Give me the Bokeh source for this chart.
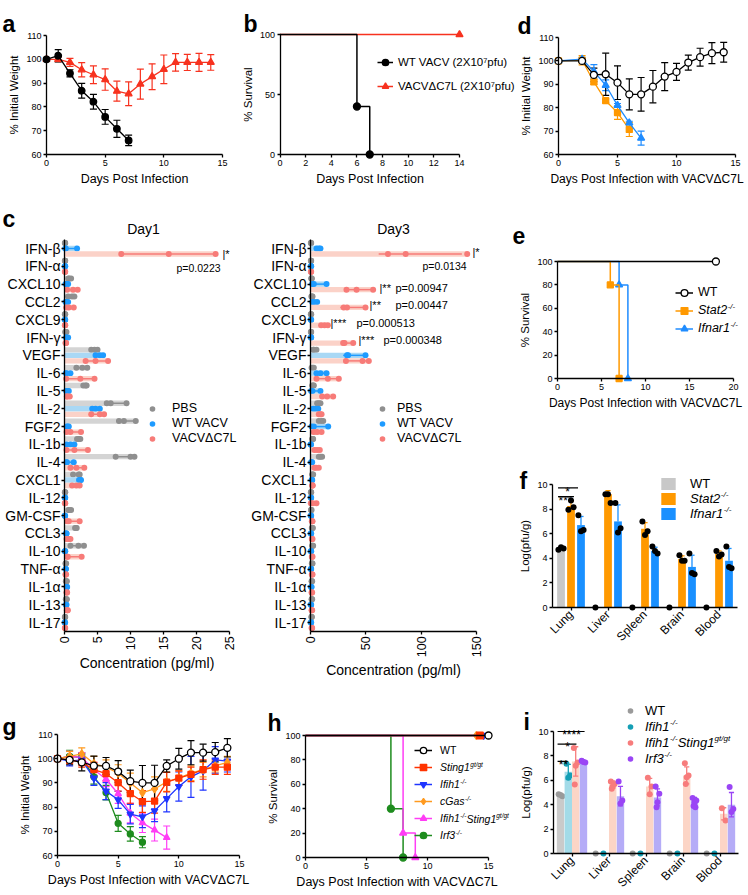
import numpy as np
from math import pi
from bokeh.plotting import figure
from bokeh.models import (ColumnDataSource, Label, Legend, LegendItem, FixedTicker,
                          Whisker, TeeHead, Range1d)
from bokeh.transform import dodge
from bokeh.layouts import row, column
from bokeh.embed import file_html
from bokeh.resources import INLINE

FONT = "Liberation Sans"

# ======================= DATA =======================
# (a) body weight
A_WT_DAYS = [0, 1, 2, 3, 4, 5, 6, 7]
A_WT_MEAN = [100.0, 101.5, 94.1, 86.8, 82.2, 75.8, 70.8, 65.9]
A_WT_SD = [0.0, 2.6, 1.5, 3.1, 3.1, 3.1, 3.6, 2.2]
A_C7L_DAYS = [0, 1, 2, 3, 4, 5, 6, 7, 8, 9, 10, 11, 12, 13, 14]
A_C7L_MEAN = [100.0, 100.0, 98.7, 95.6, 93.5, 91.5, 86.6, 85.5, 89.6, 92.7, 95.8, 98.7, 98.7, 98.7, 98.7]
A_C7L_SD = [0.0, 1.0, 1.7, 3.0, 3.7, 4.5, 4.2, 5.0, 6.3, 5.4, 6.0, 3.7, 3.4, 3.8, 3.3]

# (b) survival
B_WT_T = [0, 6, 7]
B_WT_S = [100, 40, 0]
B_C7L_T = [0, 14]
B_C7L_S = [100, 100]

# (d) body weight after VACVΔC7L
D_WT_DAYS = [0, 2, 3, 4, 5, 6, 7, 8, 9, 10, 11, 12, 13, 14]
D_WT_MEAN = [100.0, 100.0, 94.0, 94.3, 90.7, 85.7, 85.7, 89.0, 93.3, 95.3, 99.3, 101.6, 103.3, 103.7]
D_WT_SD = [0.0, 0.5, 2.9, 9.0, 7.2, 6.6, 7.2, 6.9, 6.0, 3.6, 3.2, 3.8, 4.5, 4.2]
D_STAT2_DAYS = [0, 2, 3, 4, 5, 6]
D_STAT2_MEAN = [100.0, 100.3, 91.0, 83.0, 77.9, 70.7]
D_STAT2_SD = [0.0, 2.0, 1.0, 0.8, 2.9, 3.0]
D_IFNAR1_DAYS = [0, 2, 3, 4, 5, 6, 7]
D_IFNAR1_MEAN = [100.0, 100.8, 95.5, 89.6, 81.0, 73.5, 67.0]
D_IFNAR1_SD = [0.0, 0.7, 2.9, 2.3, 0.8, 0.7, 3.0]

# (e) survival
E_WT_T = [0, 18]
E_WT_S = [100, 100]
E_STAT2_T = [0, 6, 7]
E_STAT2_S = [100, 80, 0]
E_IFNAR1_T = [0, 7, 8]
E_IFNAR1_S = [100, 80, 0]

# (f) viral titres
ORGANS = ["Lung", "Liver", "Spleen", "Brain", "Blood"]
F_WT_MEAN = [4.8, 0, 0, 0, 0]
F_WT_SD = [0.1, 0, 0, 0, 0]
F_STAT2_MEAN = [8.25, 9.2, 6.4, 3.95, 4.35]
F_STAT2_SD = [0.4, 0.3, 0.5, 0.25, 0.25]
F_IFNAR1_MEAN = [6.7, 7.0, 4.6, 3.3, 3.8]
F_IFNAR1_SD = [0.7, 1.35, 0.3, 0.95, 1.0]
F_WT_PTS = [[4.7, 4.9, 4.8], [0], [0], [0], [0]]
F_STAT2_PTS = [[7.95, 8.7, 8.15], [9.2, 9.2, 8.5], [7.0, 5.9, 6.2], [4.25, 3.8, 3.8], [4.6, 4.15, 4.3]]
F_IFNAR1_PTS = [[7.5, 6.2, 6.3], [8.5, 6.1, 6.45], [4.95, 4.6, 4.4], [4.4, 2.8, 2.7], [4.95, 3.3, 3.2]]

# (g) body weight, knockout panel
G_DAYS = [0, 1, 2, 3, 4, 5, 6, 7, 8, 9, 10, 11, 12, 13, 14]
G_WT = [100, 99.5, 98.5, 97.1, 97.0, 94.7, 90.7, 90.0, 90.0, 97.0, 100.0, 102.5, 102.5, 102.7, 104.5]
G_WT_SD = [0, 2.0, 3.5, 4.0, 3.5, 4.5, 4.6, 7.2, 7.3, 2.5, 4.3, 5.0, 3.5, 4.0, 3.8]
G_STING = [100, 99.5, 98.5, 95.5, 93.8, 90.1, 85.6, 82.3, 82.5, 90.3, 92.0, 93.5, 95.5, 96.5, 96.5]
G_STING_SD = [0, 1.5, 2.0, 3.0, 3.0, 3.5, 4.0, 4.5, 5.0, 4.0, 3.0, 3.0, 4.0, 3.0, 3.0]
G_CGAS = [100, 101, 102, 98, 96.5, 94, 90, 86, 87.5, 90.5, 92, 94, 95.5, 97, 98.5]
G_CGAS_SD = [0, 2.0, 2.5, 3.0, 3.0, 3.5, 4.0, 4.0, 5.0, 4.0, 3.0, 3.0, 3.0, 2.5, 2.5]
G_IFIH1 = [100, 99, 99.5, 92, 86.6, 83, 77.1, 76, 78.5, 83.5, 88.5, 92.5, 95, 99.5, 99]
G_IFIH1_SD = [0, 2.0, 2.0, 3.0, 3.5, 3.5, 4.0, 4.5, 4.5, 5.5, 6.0, 8.5, 8.0, 5.5, 4.5]
G_DKO_DAYS = [0, 1, 2, 3, 4, 5, 6, 7, 8, 9]
G_DKO = [100, 101, 100.5, 95.5, 91.5, 85.5, 77.5, 73.5, 70.5, 67.4]
G_DKO_SD = [0, 2.0, 2.0, 3.0, 3.0, 4.0, 4.0, 4.0, 4.5, 4.8]
G_IRF3_DAYS = [0, 1, 2, 3, 4, 5, 6, 7]
G_IRF3 = [100, 101, 100.5, 92.5, 86, 73.3, 68.9, 65.5]
G_IRF3_SD = [0, 2.5, 2.0, 3.0, 3.0, 3.3, 3.0, 2.3]

# (h) survival, knockout panel
H_WT_T = [0, 15]
H_WT_S = [100, 100]
H_STING_T = [0, 14.3]
H_STING_S = [100, 100]
H_IFIH1_T = [0, 14.6]
H_IFIH1_S = [100, 100]
H_CGAS_T = [0, 14.0]
H_CGAS_S = [100, 100]
H_DKO_T = [0, 8, 9]
H_DKO_S = [100, 20, 0]
H_IRF3_T = [0, 7, 8]
H_IRF3_S = [100, 40, 0]

# (i) viral titres, knockout panel
I_WT_MEAN = [4.8, 0, 0, 0, 0]
I_WT_SD = [0.1, 0, 0, 0, 0]
I_IFIH1_MEAN = [6.7, 0, 0, 0, 0]
I_IFIH1_SD = [0.6, 0, 0, 0, 0]
I_DKO_MEAN = [7.55, 5.65, 5.5, 6.4, 3.25]
I_DKO_SD = [1.2, 0.3, 0.65, 0.7, 0.5]
I_IRF3_MEAN = [7.5, 4.7, 4.6, 4.3, 4.0]
I_IRF3_SD = [0.1, 0.8, 0.7, 0.3, 1.0]
I_WT_PTS = [[4.85, 4.7, 4.8], [0], [0], [0], [0]]
I_IFIH1_PTS = [[7.35, 6.4, 6.2], [0], [0], [0], [0]]
I_DKO_PTS = [[8.65, 7.45, 7.2, 5.65], [5.9, 5.7, 5.5, 5.3], [6.2, 5.5, 4.85], [7.4, 6.4, 6.25, 5.7], [3.7, 2.7]]
I_IRF3_PTS = [[7.6, 7.45, 7.5, 7.55], [5.9, 4.35, 4.1], [5.5, 4.9, 4.2, 3.8], [4.55, 4.35, 4.2, 3.9, 3.8], [5.45, 3.65, 3.4]]

# (c) cytokines (three replicates each)
CYTOKINES = ["IFN-β", "IFN-α", "CXCL10", "CCL2", "CXCL9", "IFN-γ", "VEGF", "IL-6", "IL-5", "IL-2", "FGF2",
             "IL-1b", "IL-4", "CXCL1", "IL-12", "GM-CSF", "CCL3", "IL-10", "TNF-α", "IL-1α", "IL-13", "IL-17"]
DAY1_PBS = [[0.05, 0.1, 0.1], [0.05, 0.1, 0.1], [0.6, 0.7, 1.0], [0.55, 1.15, 1.5], [0.05, 0.1, 0.1],
            [0.1, 0.2, 0.3], [4.05, 4.55, 5.0], [1.8, 2.7, 3.45], [2.85, 3.2, 3.35], [6.4, 7.0, 9.4],
            [8.25, 9.0, 10.8], [1.9, 2.2, 2.4], [7.75, 10.0, 10.6], [1.3, 2.15, 2.3], [0.05, 0.1, 0.1],
            [0.6, 0.7, 1.0], [1.6, 1.75, 1.85], [0.9, 2.1, 2.95], [0.15, 0.2, 0.25], [0.2, 0.3, 0.35],
            [0.2, 0.3, 0.35], [0.05, 0.1, 0.1]]
DAY1_WT = [[0.1, 0.2, 1.9], [0.05, 0.1, 0.1], [0.15, 0.3, 0.55], [0.15, 0.3, 0.55], [0.05, 0.1, 0.1],
           [0.2, 0.3, 0.55], [4.7, 5.35, 5.85], [0.2, 0.3, 0.9], [0.25, 0.5, 0.65], [4.2, 4.7, 5.35],
           [0.3, 0.5, 0.65], [0.3, 0.9, 1.5], [0.3, 0.35, 1.4], [2.2, 2.4, 2.5], [0.05, 0.1, 0.1],
           [0.05, 0.05, 0.1], [0.2, 0.3, 0.3], [0.05, 0.1, 0.1], [0.15, 0.2, 0.2], [0.3, 0.35, 0.4],
           [0.2, 0.25, 0.3], [0.05, 0.05, 0.1]]
DAY1_C7L = [[8.6, 15.8, 22.9], [0.05, 0.1, 0.1], [0.4, 1.3, 2.0], [0.25, 0.65, 1.4], [0.05, 0.1, 0.1],
            [0.15, 0.2, 0.25], [3.2, 4.7, 6.6], [0.25, 2.4, 4.55], [0.35, 0.4, 0.8], [4.05, 5.35, 6.0],
            [0.3, 0.9, 2.5], [0.3, 1.5, 3.55], [0.9, 1.8, 3.0], [1.15, 1.8, 2.3], [0.05, 0.1, 0.1],
            [0.4, 0.65, 2.3], [0.3, 0.65, 0.9], [0.4, 0.5, 2.6], [0.15, 0.2, 0.25], [0.3, 0.35, 0.4],
            [0.35, 0.45, 0.5], [0.05, 0.1, 0.1]]
DAY3_PBS = [[0.3, 0.5, 0.6], [0.3, 0.5, 0.6], [0.6, 1.0, 1.2], [0.8, 1.5, 1.8], [0.3, 0.5, 0.6],
            [0.3, 0.5, 0.6], [2.5, 3.0, 5.4], [1.0, 2.0, 3.0], [1.5, 2.5, 3.0], [6.0, 7.5, 9.0],
            [7.5, 10.0, 11.5], [1.5, 2.0, 2.4], [7.5, 9.0, 10.5], [1.5, 2.0, 2.4], [0.3, 0.5, 0.6],
            [0.5, 0.7, 0.9], [1.2, 1.8, 2.1], [1.5, 2.0, 2.4], [1.2, 1.5, 1.8], [1.0, 1.2, 1.5],
            [1.0, 1.2, 1.5], [0.8, 1.0, 1.2]]
DAY3_WT = [[5.4, 7.5, 9.0], [0.3, 0.5, 0.6], [1.5, 3.0, 14.5], [1.5, 3.0, 6.0], [0.3, 0.5, 0.6],
           [0.3, 0.5, 0.6], [33.0, 34.0, 49.7], [5.4, 9.0, 14.5], [0.5, 1.8, 9.0], [2.4, 4.5, 7.0],
           [1.0, 3.0, 16.0], [0.2, 0.3, 0.4], [0.5, 1.0, 1.5], [1.0, 1.5, 1.5], [0.3, 0.5, 0.6],
           [0.3, 0.5, 0.6], [0.3, 0.5, 0.6], [0.3, 0.5, 0.6], [0.3, 0.5, 0.6], [0.5, 0.8, 0.9],
           [0.3, 0.5, 0.6], [0.3, 0.5, 0.6]]
DAY3_C7L = [[70.0, 86.0, 141.6], [0.3, 0.5, 0.6], [32.5, 41.6, 56.6], [30.0, 33.0, 49.7], [9.6, 12.7, 15.7],
            [29.5, 30.7, 38.6], [32.0, 47.0, 52.7], [5.4, 15.7, 25.6], [10.5, 15.0, 20.5], [7.5, 9.0, 10.0],
            [3.0, 6.0, 10.0], [3.6, 6.0, 8.4], [3.6, 5.0, 7.5], [1.5, 1.8, 2.0], [0.3, 2.0, 5.4],
            [1.2, 1.5, 1.8], [1.2, 1.5, 1.8], [1.2, 1.5, 1.8], [1.2, 1.5, 1.8], [1.0, 1.2, 1.5],
            [1.0, 1.2, 1.5], [1.0, 1.2, 1.5]]

# ======================= STYLE =======================
RED = "#f7321f"
ORANGE = "#ff9900"
BLUE_D = "#1f8cff"
BLUE_G = "#1f35ff"
MAGENTA = "#ff3df5"
GREEN = "#1e8c1e"
STING_RED = "#ff3300"
CGAS_OR = "#ff9a1f"
C_COLS = [("#8f8f8f", "#d4d4d4"), ("#1e9bff", "#a9d8f5"), ("#f77b78", "#fbd2c8")]
C_OFFS = [0.31, 0.0, -0.31]
F_COLS = ["#c8c8c8", "#ff9900", "#1a90ff"]
I_BAR = ["#cacaca", "#a3dbe8", "#fcd5c6", "#b5acf7"]
I_DOT = ["#9a9a9a", "#159fb5", "#f77c7c", "#9a45f5"]
JIT_F = [-0.07, 0.0, 0.07]
JIT_I = [-0.05, 0.05, 0.0, -0.025, 0.025]

ROW1_Y, ROW2_Y, ROW3_Y, BOTTOM = 0, 195, 680, 894

AW = {' ': 278, '%': 889, '(': 333, ')': 333, '-': 333, '/': 278, '0': 556, '1': 556, '2': 556, '3': 556,
      '4': 556, '5': 556, '6': 556, '7': 556, '8': 556, '9': 556, 'A': 667, 'C': 722, 'D': 722, 'F': 611,
      'G': 778, 'I': 278, 'L': 556, 'M': 833, 'N': 722, 'P': 667, 'S': 667, 'T': 611, 'V': 667, 'W': 944,
      'X': 667, 'a': 556, 'b': 556, 'c': 500, 'e': 556, 'f': 278, 'g': 556, 'h': 556, 'i': 222, 'l': 222,
      'm': 833, 'n': 556, 'o': 556, 'p': 556, 'r': 333, 's': 500, 't': 278, 'u': 556, 'y': 500}


def tw(s, fs):
    return sum(AW.get(ch, 556) for ch in s) * fs / 1000.0


class Panel:
    pass


def full_panel(fx, fy, fw, fh, X0, X1, x0, x1, Y0, Y1, y0, y1, xloc, yloc, xb, yb):
    """Figure whose frame fills the canvas; axes pinned at data positions."""
    sx = (X1 - X0) / (x1 - x0)
    sy = (Y0 - Y1) / (y1 - y0)
    xs, xe = x0 - (X0 - fx) / sx, x1 + (fx + fw - X1) / sx
    ys, ye = y0 - (fy + fh - Y0) / sy, y1 + (Y1 - fy) / sy
    p = figure(width=int(fw), height=int(fh), x_range=Range1d(xs, xe), y_range=Range1d(ys, ye),
               title=None, output_backend="svg", toolbar_location=None,
               min_border_left=0, min_border_right=0, min_border_top=0, min_border_bottom=0)
    p.outline_line_color = None
    p.xgrid.visible = False
    p.ygrid.visible = False
    p.background_fill_color = "white"
    p.border_fill_color = "white"
    p.xaxis.fixed_location = xloc
    p.yaxis.fixed_location = yloc
    p.xaxis.bounds = xb
    p.yaxis.bounds = yb
    P = Panel()
    P.p, P.fx, P.FB, P.ax, P.ay = p, fx, fy + fh, xs, ys
    return P


def style(P, xlabel=None, ylabel=None, tick_fs=9, xl_fs=12.5, yl_fs=11.5):
    p = P.p
    for a in p.axis:
        a.axis_line_color = "black"
        a.axis_line_width = 1.3
        a.major_tick_line_color = "black"
        a.major_tick_line_width = 1.3
        a.major_tick_in = 0
        a.major_tick_out = 3
        a.minor_tick_line_color = None
        a.major_label_text_font = FONT
        a.major_label_text_font_size = f"{tick_fs}px"
        a.major_label_text_color = "black"
        a.major_label_standoff = 2
        a.axis_label_text_font = FONT
        a.axis_label_text_font_style = "normal"
        a.axis_label_text_color = "black"
        a.axis_label_standoff = 3
    p.xaxis.axis_label = xlabel
    p.yaxis.axis_label = ylabel
    p.xaxis.axis_label_text_font_size = f"{xl_fs}px"
    p.yaxis.axis_label_text_font_size = f"{yl_fs}px"


def lab(P, px, py, text, fs, align="left", baseline="middle", style_="normal", color="black"):
    P.p.add_layout(Label(x=P.ax, y=P.ay, x_offset=px - P.fx, y_offset=P.FB - py, text=text,
                         text_font=FONT, text_font_size=f"{fs:.2f}px", text_align=align,
                         text_baseline=baseline, text_font_style=style_, text_color=color))


def letter(P, px, py, t):
    lab(P, px, py, t, 23, baseline="alphabetic", style_="bold")


def legend(P, items, left, first_cy, gw, gh, sp, ls, fs, italic=False):
    n = len(items)
    total = n * gh + (n - 1) * sp
    top = first_cy - gh / 2.0
    leg = Legend(items=[LegendItem(label=l, renderers=r) for l, r in items],
                 location=(left - P.fx, P.FB - (top + total)),
                 glyph_width=gw, glyph_height=gh, spacing=sp, label_standoff=ls, label_height=gh,
                 label_width=10, padding=0, margin=0, border_line_color=None, background_fill_alpha=0,
                 label_text_font=FONT, label_text_font_size=f"{fs}px", label_text_color="black",
                 label_text_font_style="italic" if italic else "normal", label_text_baseline="middle")
    P.p.add_layout(leg)
    return left + gw + ls


def rich(P, x, cy, segs, fs, italic):
    cx = x
    for t, sup in segs:
        f = fs * 0.62 if sup else fs
        y = cy - fs * 0.33 if sup else cy
        lab(P, cx, y, t, f, style_="italic" if italic else "normal")
        cx += tw(t, f)


def legend_rich(P, items, left, first_cy, gw, gh, sp, ls, fs, italic):
    start = legend(P, [(segs[0][0], r) for segs, r in items], left, first_cy, gw, gh, sp, ls, fs, italic)
    for k, (segs, r) in enumerate(items):
        cy = first_cy + k * (gh + sp)
        if len(segs) > 1:
            rich(P, start + tw(segs[0][0], fs), cy, segs[1:], fs, italic)


def wseries(P, days, mean, sd, color, marker, size, fill=None):
    m = np.array(mean, float)
    s = np.array(sd, float)
    src = ColumnDataSource(dict(x=days, y=list(m)))
    keep = s > 0
    esrc = ColumnDataSource(dict(x=list(np.array(days, float)[keep]), lo=list((m - s)[keep]),
                                 hi=list((m + s)[keep])))
    P.p.add_layout(Whisker(source=esrc, base="x", lower="lo", upper="hi", dimension="height",
                           line_color=color, line_width=1.2, level="underlay",
                           upper_head=TeeHead(size=7, line_color=color, line_width=1.2),
                           lower_head=TeeHead(size=7, line_color=color, line_width=1.2)))
    l = P.p.line("x", "y", source=src, line_color=color, line_width=1.3)
    sc = P.p.scatter("x", "y", source=src, marker=marker, size=size, fill_color=fill or color,
                     line_color=color, line_width=1.3)
    return [l, sc]


def surv(P, t, s, color, marker, size, fill=None):
    src = ColumnDataSource(dict(t=t, s=s))
    st = P.p.step("t", "s", source=src, mode="after", line_color=color, line_width=1.5)
    ev = ColumnDataSource(dict(t=t[1:], s=s[1:]))
    sc = P.p.scatter("t", "s", source=ev, marker=marker, size=size, fill_color=fill or color,
                     line_color=color, line_width=1.3)
    return [st, sc]


ORG_X = list(range(len(ORGANS)))


def cat_axis(P):
    p = P.p
    p.xaxis.ticker = FixedTicker(ticks=ORG_X)
    p.xaxis.major_label_overrides = {k: n for k, n in zip(ORG_X, ORGANS)}
    p.xaxis.major_label_orientation = pi / 4
    p.xaxis.major_label_text_font_size = "12px"
    p.yaxis.ticker = FixedTicker(ticks=[0, 2, 4, 6, 8, 10])


def bars(P, means, sds, pts, off, bar_col, dot_col, err_col, jit, width, both):
    p = P.p
    src = ColumnDataSource(dict(k=ORG_X, m=means))
    vb = p.vbar(x=dodge("k", off), top="m", width=width, source=src, fill_color=bar_col, line_color=None)
    ek = [k for k, s in zip(ORG_X, sds) if s > 0]
    em = [m for m, s in zip(means, sds) if s > 0]
    es = [s for s in sds if s > 0]
    esrc = ColumnDataSource(dict(k=ek, lo=[m - s if both else m for m, s in zip(em, es)],
                                 hi=[m + s for m, s in zip(em, es)]))
    p.segment(x0=dodge("k", off), x1=dodge("k", off), y0="lo", y1="hi",
              source=esrc, line_color=err_col, line_width=1.3)
    p.segment(x0=dodge("k", off - 0.07), x1=dodge("k", off + 0.07), y0="hi", y1="hi",
              source=esrc, line_color=err_col, line_width=1.3)
    if both:
        p.segment(x0=dodge("k", off - 0.07), x1=dodge("k", off + 0.07), y0="lo", y1="lo",
                  source=esrc, line_color=err_col, line_width=1.3)
    rs = []
    for j in range(max(len(v) for v in pts)):
        pk = [k for k, v in zip(ORG_X, pts) if len(v) > j]
        pv = [v[j] for v in pts if len(v) > j]
        rs.append(p.scatter(x=dodge("k", off + jit[j]), y="v",
                            source=ColumnDataSource(dict(k=pk, v=pv)), size=6,
                            fill_color=dot_col, line_color=None))
    return vb, rs


def sig(P, organ, a, b, yv):
    k = ORGANS.index(organ)
    P.p.segment(x0=dodge("k", a), x1=dodge("k", b), y0="y", y1="y",
                source=ColumnDataSource(dict(k=[k], y=[yv])), line_color="black", line_width=1.2)


CY_Y = [len(CYTOKINES) - 1 - i for i in range(len(CYTOKINES))]


def c_panel(fx, fw, X0, X1, xmax, groups, ticks):
    n = len(CYTOKINES)
    P = full_panel(fx, ROW2_Y, fw, ROW3_Y - ROW2_Y, X0, X1, 0, xmax, 622, 248, 0, n - 1,
                   -0.5, 0, (0, xmax), (-0.5, n - 0.5))
    p = P.p
    style(P, xlabel="Concentration (pg/ml)", tick_fs=12.5, xl_fs=14)
    p.xaxis.axis_label_standoff = 2
    p.yaxis.ticker = FixedTicker(ticks=CY_Y)
    p.yaxis.major_label_overrides = {y: c for y, c in zip(CY_Y, CYTOKINES)}
    p.yaxis.major_label_text_font_size = "14px"
    p.yaxis.major_label_standoff = 1
    p.xaxis.ticker = FixedTicker(ticks=ticks)
    p.xaxis.major_label_orientation = pi / 2
    rends = []
    for vals, off, (dcol, bcol) in zip(groups, C_OFFS, C_COLS):
        yd = dodge("y", off)
        mean = [float(np.mean(v)) for v in vals]
        sd = [float(np.std(v, ddof=1)) for v in vals]
        src = ColumnDataSource(dict(y=CY_Y, mx=[max(v) for v in vals],
                                    lo=[max(0.0, m - s) for m, s in zip(mean, sd)],
                                    hi=[m + s for m, s in zip(mean, sd)]))
        p.hbar(y=yd, left=0, right="mx", height=0.3, source=src, fill_color=bcol, line_color=None)
        p.segment(x0="lo", x1="hi", y0=yd, y1=yd, source=src, line_color=dcol, line_width=1.5)
        psrc = ColumnDataSource(dict(y=[yy for yy, v in zip(CY_Y, vals) for _ in v],
                                     v=[x for v in vals for x in v]))
        rends.append(p.scatter("v", yd, source=psrc, size=6, fill_color=dcol, line_color=None))
    return P, rends


H1 = ROW2_Y - ROW1_Y
H3 = BOTTOM - ROW3_Y

# ======================= PANEL a =======================
A = full_panel(0, ROW1_Y, 238, H1, 46, 222, 0, 15, 154, 35, 60, 110, 60, 0, (0, 15), (60, 110))
style(A, xlabel="Days Post Infection", ylabel="% Initial Weight")
A.p.xaxis.ticker = FixedTicker(ticks=[0, 5, 10, 15])
A.p.yaxis.ticker = FixedTicker(ticks=[60, 70, 80, 90, 100, 110])
wseries(A, A_C7L_DAYS, A_C7L_MEAN, A_C7L_SD, RED, "triangle", 7)
wseries(A, A_WT_DAYS, A_WT_MEAN, A_WT_SD, "black", "circle", 6.5)
letter(A, 2, 23, "a")

# ======================= PANEL b =======================
B = full_panel(238, ROW1_Y, 278, H1, 279.5, 459, 0, 14, 154, 34, 0, 100, 0, 0, (0, 14), (0, 100))
style(B, xlabel="Days Post Infection", ylabel="% Survival")
B.p.xaxis.ticker = FixedTicker(ticks=[0, 2, 4, 6, 8, 10, 12, 14])
B.p.yaxis.ticker = FixedTicker(ticks=[0, 50, 100])
rb_c7l = surv(B, B_C7L_T, B_C7L_S, RED, "triangle", 7)
rb_wt = surv(B, B_WT_T, B_WT_S, "black", "circle", 7)
legend(B, [("WT VACV (2X10⁷pfu)", rb_wt), ("VACVΔC7L (2X10⁷pfu)", rb_c7l)], 377, 62, 16, 20, 4, 5, 11.5)
letter(B, 243, 23, "b")

# ======================= PANEL d =======================
D = full_panel(516, ROW1_Y, 232, H1, 558, 735, 0, 15, 154, 37, 60, 110, 60, 0, (0, 15), (60, 110))
style(D, xlabel="Days Post Infection with VACVΔC7L", ylabel="% Initial Weight", xl_fs=12)
D.p.xaxis.ticker = FixedTicker(ticks=[0, 5, 10, 15])
D.p.yaxis.ticker = FixedTicker(ticks=[60, 70, 80, 90, 100, 110])
wseries(D, D_STAT2_DAYS, D_STAT2_MEAN, D_STAT2_SD, ORANGE, "square", 6)
wseries(D, D_IFNAR1_DAYS, D_IFNAR1_MEAN, D_IFNAR1_SD, BLUE_D, "triangle", 7)
wseries(D, D_WT_DAYS, D_WT_MEAN, D_WT_SD, "black", "circle", 7, fill="white")
letter(D, 517, 25, "d")

# ======================= PANEL c =======================
C1, c1r = c_panel(0, 240, 64, 229, 25, [DAY1_PBS, DAY1_WT, DAY1_C7L], [0, 5, 10, 15, 20, 25])
C3, c3r = c_panel(240, 260, 310, 476, 150, [DAY3_PBS, DAY3_WT, DAY3_C7L], [0, 50, 100, 150])
letter(C1, 2, 218, "c")
lab(C1, 143, 228, "Day1", 14, align="center")
lab(C3, 393, 228, "Day3", 14, align="center")
legend(C1, [("PBS", [c1r[0]]), ("WT VACV", [c1r[1]]), ("VACVΔC7L", [c1r[2]])], 145, 408, 14, 15, 0, 13, 12.5)
legend(C3, [("PBS", [c3r[0]]), ("WT VACV", [c3r[1]]), ("VACVΔC7L", [c3r[2]])], 375, 408, 14, 15, 0, 8, 12.5)
lab(C1, 222, 253, "|*", 11)
lab(C1, 176, 267, "p=0.0223", 10.5)
lab(C3, 472, 251, "|*", 11)
lab(C3, 422, 265, "p=0.0134", 10.5)
lab(C3, 379, 287, "|**", 11)
lab(C3, 395, 287, "p=0.00947", 11)
lab(C3, 369, 304, "|**", 11)
lab(C3, 395, 304, "p=0.00447", 11)
lab(C3, 330, 322, "|***", 11)
lab(C3, 356, 322, "p=0.000513", 11)
lab(C3, 358, 339, "|***", 11)
lab(C3, 383, 339, "p=0.000348", 11)

# ======================= PANEL e =======================
E = full_panel(500, ROW2_Y, 248, 225, 557, 733, 0, 20, 378, 261, 0, 100, 0, 0, (0, 20), (0, 100))
style(E, xlabel="Days Post Infection with VACVΔC7L", ylabel="% Survival", xl_fs=12)
E.p.xaxis.ticker = FixedTicker(ticks=[0, 5, 10, 15, 20])
E.p.yaxis.ticker = FixedTicker(ticks=[0, 20, 40, 60, 80, 100])
re_if = surv(E, E_IFNAR1_T, E_IFNAR1_S, BLUE_D, "triangle", 7)
re_st = surv(E, E_STAT2_T, E_STAT2_S, ORANGE, "square", 6)
re_wt = surv(E, E_WT_T, E_WT_S, "black", "circle", 7, fill="white")
legend(E, [("WT", re_wt)], 675, 292, 18, 17, 1, 5, 12.5)
legend_rich(E, [([("Stat2", 0), ("-/-", 1)], re_st), ([("Ifnar1", 0), ("-/-", 1)], re_if)],
            675, 310, 18, 17, 1, 5, 12.5, True)
letter(E, 512, 235, "e")

# ======================= PANEL f =======================
F_Y = ROW2_Y + 225
Fp = full_panel(500, F_Y, 248, ROW3_Y - F_Y, 570.5, 718.5, 0, 4, 607, 484, 0, 10, 0, -0.5, (-0.5, 4.5), (0, 10))
style(Fp, ylabel="Log(pfu/g)")
cat_axis(Fp)
fb_wt, _ = bars(Fp, F_WT_MEAN, F_WT_SD, F_WT_PTS, -0.27, F_COLS[0], "black", F_COLS[0], JIT_F, 0.21, False)
fb_st, _ = bars(Fp, F_STAT2_MEAN, F_STAT2_SD, F_STAT2_PTS, 0.0, F_COLS[1], "black", F_COLS[1], JIT_F, 0.21, False)
fb_if, _ = bars(Fp, F_IFNAR1_MEAN, F_IFNAR1_SD, F_IFNAR1_PTS, 0.27, F_COLS[2], "black", F_COLS[2], JIT_F, 0.21, False)
sig(Fp, "Lung", -0.35, 0.19, 9.73)
sig(Fp, "Lung", -0.35, 0.08, 9.02)
lab(Fp, 567, 491, "*", 12, align="center", baseline="alphabetic")
lab(Fp, 565, 500.5, "***", 12, align="center", baseline="alphabetic")
legend(Fp, [("WT", [fb_wt])], 659, 483, 18, 15, 0, 13, 13)
legend_rich(Fp, [([("Stat2", 0), ("-/-", 1)], [fb_st]), ([("Ifnar1", 0), ("-/-", 1)], [fb_if])],
            659, 498, 18, 15, 0, 13, 13, True)
letter(Fp, 519, 480, "f")

# ======================= PANEL g =======================
Gp = full_panel(0, ROW3_Y, 255, H3, 57, 239, 0, 15, 855, 734, 60, 110, 60, 0, (0, 15), (60, 110))
style(Gp, xlabel="Days Post Infection with VACVΔC7L", ylabel="% Initial Weight")
Gp.p.xaxis.ticker = FixedTicker(ticks=[0, 5, 10, 15])
Gp.p.yaxis.ticker = FixedTicker(ticks=[60, 70, 80, 90, 100, 110])
wseries(Gp, G_IRF3_DAYS, G_IRF3, G_IRF3_SD, GREEN, "circle", 6)
wseries(Gp, G_DKO_DAYS, G_DKO, G_DKO_SD, MAGENTA, "triangle", 6.5)
wseries(Gp, G_DAYS, G_IFIH1, G_IFIH1_SD, BLUE_G, "inverted_triangle", 6.5)
wseries(Gp, G_DAYS, G_CGAS, G_CGAS_SD, CGAS_OR, "diamond", 8)
wseries(Gp, G_DAYS, G_STING, G_STING_SD, STING_RED, "square", 6)
wseries(Gp, G_DAYS, G_WT, G_WT_SD, "black", "circle", 7, fill="white")
letter(Gp, 2, 726, "g")

# ======================= PANEL h =======================
Hp = full_panel(255, ROW3_Y, 255, H3, 305, 488, 0, 15, 857, 735, 0, 100, 0, 0, (0, 15), (0, 100))
style(Hp, xlabel="Days Post Infection with VACVΔC7L", ylabel="% Survival")
Hp.p.xaxis.ticker = FixedTicker(ticks=[0, 5, 10, 15])
Hp.p.yaxis.ticker = FixedTicker(ticks=[0, 20, 40, 60, 80, 100])
rh_irf3 = surv(Hp, H_IRF3_T, H_IRF3_S, GREEN, "circle", 7)
rh_dko = surv(Hp, H_DKO_T, H_DKO_S, MAGENTA, "triangle", 7)
rh_cgas = surv(Hp, H_CGAS_T, H_CGAS_S, CGAS_OR, "diamond", 8)
rh_ifih1 = surv(Hp, H_IFIH1_T, H_IFIH1_S, BLUE_G, "inverted_triangle", 7)
rh_sting = surv(Hp, H_STING_T, H_STING_S, STING_RED, "square", 6.5)
rh_wt = surv(Hp, H_WT_T, H_WT_S, "black", "circle", 7, fill="white")
legend(Hp, [("WT", rh_wt)], 414, 750, 18, 16, 1, 8, 10.5)
legend_rich(Hp, [([("Sting1", 0), ("gt/gt", 1)], rh_sting),
                 ([("Ifih1", 0), ("-/-", 1)], rh_ifih1),
                 ([("cGas", 0), ("-/-", 1)], rh_cgas),
                 ([("Ifih1", 0), ("-/-", 1), ("Sting1", 0), ("gt/gt", 1)], rh_dko),
                 ([("Irf3", 0), ("-/-", 1)], rh_irf3)],
            414, 767, 18, 16, 1, 8, 10.5, True)
letter(Hp, 267, 722, "h")

# ======================= PANEL i =======================
Ip = full_panel(510, ROW3_Y, 238, H3, 571.5, 719.5, 0, 4, 853, 731, 0, 10, 0, -0.5, (-0.5, 4.5), (0, 10))
style(Ip, ylabel="Log(pfu/g)")
cat_axis(Ip)
_, ir_wt = bars(Ip, I_WT_MEAN, I_WT_SD, I_WT_PTS, -0.31, I_BAR[0], I_DOT[0], I_DOT[0], JIT_I, 0.2, True)
_, ir_if = bars(Ip, I_IFIH1_MEAN, I_IFIH1_SD, I_IFIH1_PTS, -0.1, I_BAR[1], I_DOT[1], I_DOT[1], JIT_I, 0.2, True)
_, ir_dko = bars(Ip, I_DKO_MEAN, I_DKO_SD, I_DKO_PTS, 0.1, I_BAR[2], I_DOT[2], I_DOT[2], JIT_I, 0.2, True)
_, ir_irf = bars(Ip, I_IRF3_MEAN, I_IRF3_SD, I_IRF3_PTS, 0.31, I_BAR[3], I_DOT[3], I_DOT[3], JIT_I, 0.2, True)
sig(Ip, "Lung", -0.39, -0.12, 7.55)
sig(Ip, "Lung", -0.39, 0.12, 8.97)
sig(Ip, "Lung", -0.39, 0.34, 10.0)
lab(Ip, 563, 764, "**", 12, align="center", baseline="alphabetic")
lab(Ip, 567, 746.5, "*", 12, align="center", baseline="alphabetic")
lab(Ip, 571, 734, "****", 12, align="center", baseline="alphabetic")
legend(Ip, [("WT", [ir_wt[0]])], 623, 710, 14, 15, 1, 8, 13)
legend_rich(Ip, [([("Ifih1", 0), ("-/-", 1)], [ir_if[0]]),
                 ([("Ifih1", 0), ("-/-", 1), ("Sting1", 0), ("gt/gt", 1)], [ir_dko[0]]),
                 ([("Irf3", 0), ("-/-", 1)], [ir_irf[0]])],
            623, 726, 14, 15, 1, 8, 13, True)
letter(Ip, 523, 721, "i")

layout = column(row(A.p, B.p, D.p),
                row(C1.p, C3.p, column(E.p, Fp.p)),
                row(Gp.p, Hp.p, Ip.p))
open("out.html", "w").write(file_html(layout, INLINE, "figure"))
